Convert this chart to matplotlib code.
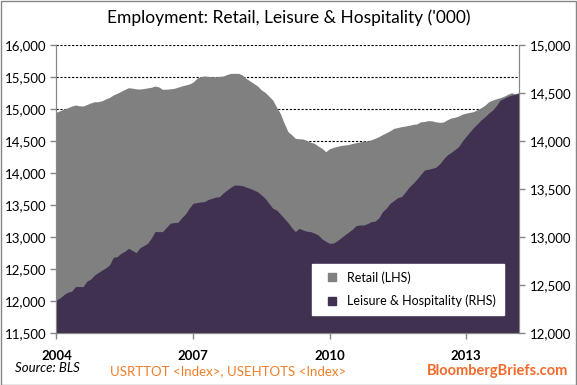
import matplotlib
matplotlib.use('Agg')
import matplotlib.pyplot as plt
from matplotlib.patches import Rectangle
from matplotlib.lines import Line2D
from matplotlib.ticker import FuncFormatter, MultipleLocator
import pandas as pd

plt.rcParams["font.family"] = ["Lato", "DejaVu Sans"]

# datos mensuales, ene 2004 - mar 2014 ('000)
fechas = pd.date_range("2004-01-01", periods=123, freq="MS")

retail = [
    14950, 14975, 15000, 15020, 15045, 15062, 15050, 15047, 15070, 15095, 15114, 15114,
    15130, 15160, 15180, 15220, 15245, 15275, 15305, 15333, 15325, 15315, 15312, 15320,
    15330, 15340, 15359, 15345, 15308, 15310, 15315, 15323, 15340, 15360, 15375, 15390,
    15420, 15480, 15505, 15516, 15510, 15505, 15505, 15510, 15516, 15540, 15557, 15557,
    15557, 15530, 15479, 15440, 15400, 15360, 15300, 15260, 15200, 15141, 15030, 14932,
    14780, 14645, 14600, 14542, 14535, 14531, 14510, 14480, 14464, 14420, 14386, 14333,
    14380, 14401, 14415, 14430, 14437, 14445, 14460, 14474, 14485, 14500, 14500, 14520,
    14542, 14570, 14600, 14630, 14660, 14698, 14710, 14725, 14734, 14745, 14760, 14766,
    14800, 14805, 14818, 14815, 14800, 14792, 14795, 14830, 14860, 14870, 14890, 14920,
    14935, 14948, 14960, 14990, 15020, 15060, 15114, 15140, 15160, 15177, 15200, 15230,
    15255, 15229, 15255,
]

leisure = [
    12344, 12368, 12400, 12425, 12435, 12483, 12485, 12483, 12540, 12560, 12604, 12630,
    12656, 12680, 12708, 12788, 12795, 12830, 12850, 12882, 12860, 12837, 12889, 12910,
    12934, 12990, 13056, 13056, 13056, 13100, 13143, 13150, 13153, 13200, 13240, 13300,
    13351, 13358, 13365, 13368, 13390, 13403, 13415, 13420, 13460, 13490, 13520, 13542,
    13540, 13535, 13520, 13507, 13490, 13472, 13440, 13403, 13350, 13300, 13281, 13240,
    13195, 13150, 13100, 13056, 13090, 13073, 13060, 13056, 13040, 13021, 12980, 12955,
    12934, 12937, 12960, 12990, 13021, 13050, 13080, 13118, 13125, 13125, 13140, 13160,
    13165, 13200, 13264, 13300, 13351, 13380, 13410, 13420, 13470, 13520, 13559, 13600,
    13650, 13698, 13705, 13715, 13726, 13760, 13810, 13854, 13880, 13910, 13941, 14000,
    14050, 14097, 14140, 14180, 14220, 14253, 14290, 14323, 14370, 14427, 14445, 14465,
    14479, 14490, 14503,
]

anios_ticks = ["2004", "2007", "2010", "2013"]

gris = "#808080"
morado = "#403151"
naranja = "#F07F2A"
eje = "#868686"

fig = plt.figure(figsize=(5.77, 3.85), dpi=100)
fig.patches.append(Rectangle((0.001, 0.001), 0.997, 0.997, transform=fig.transFigure,
                             fill=False, edgecolor=eje, linewidth=1))

ax = fig.add_axes([0.0979, 0.1351, 0.8016, 0.748])
ax2 = ax.twinx()

# Retail en eje izquierdo
ax.fill_between(fechas, retail, 11500, color=gris, linewidth=0, zorder=2)
ax.set_ylim(11500, 16000)
ax.yaxis.set_major_locator(MultipleLocator(500))
miles = FuncFormatter(lambda v, p: f"{int(v):,}")
ax.yaxis.set_major_formatter(miles)
ax.grid(axis="y", color="black", linestyle=(0, (2, 1.5)), linewidth=0.8, zorder=1)
ax.set_axisbelow(True)

# Leisure & Hospitality en eje derecho
ax2.fill_between(fechas, leisure, 12000, color=morado, linewidth=0)
ax2.set_ylim(12000, 15000)
ax2.yaxis.set_major_locator(MultipleLocator(500))
ax2.yaxis.set_major_formatter(miles)

ax.set_xlim(fechas[0], fechas[-1])
ax.set_xticks([pd.Timestamp(a + "-01-01") for a in anios_ticks])
ax.set_xticklabels(anios_ticks, fontweight="bold")

for a in (ax, ax2):
    a.spines["top"].set_visible(False)
    for s in ("left", "right", "bottom"):
        a.spines[s].set_color(eje)
    a.tick_params(axis="both", colors=eje, labelcolor="black", labelsize=9.5, length=4, width=1)
ax.tick_params(axis="x", pad=8)

fig.text(0.5, 0.953, "Employment: Retail, Leisure & Hospitality ('000)",
         ha="center", va="center", fontsize=12.5)

# leyenda
handles = [Line2D([], [], marker="s", linestyle="", color=gris, markersize=6),
           Line2D([], [], marker="s", linestyle="", color=morado, markersize=6)]
leg = ax2.legend(handles, ["Retail (LHS)", "Leisure & Hospitality (RHS)"],
                 loc="lower left", bbox_to_anchor=(0.553, 0.063), frameon=True,
                 fontsize=9, handletextpad=0.2, labelspacing=0.9,
                 borderpad=0.6, fancybox=False, borderaxespad=0)
leg.get_frame().set_edgecolor("white")
leg.get_frame().set_facecolor("white")
leg.get_frame().set_alpha(1)

fig.text(0.026, 0.044, "Source: BLS", fontsize=9.5, fontstyle="italic", va="center")
fig.text(0.19, 0.036, "USRTTOT <Index>, USEHTOTS <Index>", fontsize=9.5,
         color=naranja, va="center")
fig.text(0.985, 0.036, "BloombergBriefs.com", fontsize=10.5, fontweight="bold",
         color="#F26B2A", va="center", ha="right")

fig.savefig("out.png", dpi=100)
